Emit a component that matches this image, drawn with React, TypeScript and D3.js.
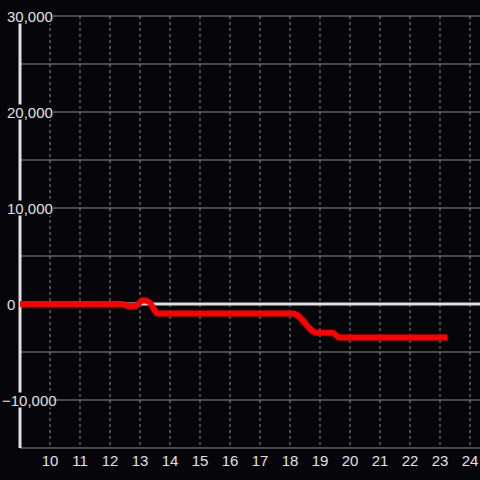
import React from "react";
import * as d3 from "d3";

const hours = [9, 12.4, 12.6, 12.85, 13.1, 13.3, 13.6, 18.1, 18.9, 19.4, 19.65, 23.25];
const values = [0, 0, -200, -200, 400, 200, -1000, -1000, -3000, -3000, -3500, -3500];
const xTicks = [10, 11, 12, 13, 14, 15, 16, 17, 18, 19, 20, 21, 22, 23, 24];
const yLabelTicks = [30000, 20000, 10000, 0, -10000];
const yGridTicks = [30000, 25000, 20000, 15000, 10000, 5000, -5000, -10000, -15000];

const W = 480, H = 480;
const left = 20, top = 16, bottom = 448;

export default function App() {
  const x = d3.scaleLinear().domain([9, 10]).range([left, left + 30]);
  const y = d3.scaleLinear().domain([-15000, 30000]).range([bottom, top]);
  const fmt = d3.format(",");
  const pts = hours.map((h, i) => [h, values[i]] as [number, number]);
  const line = d3.line<[number, number]>().x(d => x(d[0])).y(d => y(d[1])).curve(d3.curveMonotoneX);
  const font = "'Liberation Sans', Arial, sans-serif";
  return (
    <svg width={W} height={H} style={{ position: "absolute", left: 0, top: 0, background: "#060509" }}>
      <rect x={0} y={0} width={W} height={H} fill="#060509" />
      {xTicks.map(t => (
        <line key={"v" + t} x1={x(t)} x2={x(t)} y1={top} y2={bottom} stroke="#8a8a8a" strokeWidth={1} strokeDasharray="3,3" />
      ))}
      {yGridTicks.map(t => (
        <line key={"h" + t} x1={left} x2={W} y1={y(t)} y2={y(t)} stroke="#8a8a8a" strokeWidth={1} />
      ))}
      <line x1={left} x2={W} y1={y(0)} y2={y(0)} stroke="#e0e0e0" strokeWidth={3} />
      <line x1={left} x2={left} y1={top} y2={bottom} stroke="#e0e0e0" strokeWidth={3} />
      {yLabelTicks.map(t => (
        <g key={"yl" + t}>
          <rect x={0} y={y(t) - 7.5} width={t === 0 ? 18 : 53} height={15} fill="#060509" />
          <text x={t < 0 ? 2 : 7} y={y(t) + 5.5} fill="#e0e0e0" fontSize={15} fontFamily={font} textAnchor="start">{fmt(t)}</text>
        </g>
      ))}
      <path d={line(pts) || ""} fill="none" stroke="#ff0000" strokeWidth={6} />
      {xTicks.map(t => (
        <text key={"xl" + t} x={x(t)} y={466} fill="#e0e0e0" fontSize={15} fontFamily={font} textAnchor="middle">{t}</text>
      ))}
    </svg>
  );
}
